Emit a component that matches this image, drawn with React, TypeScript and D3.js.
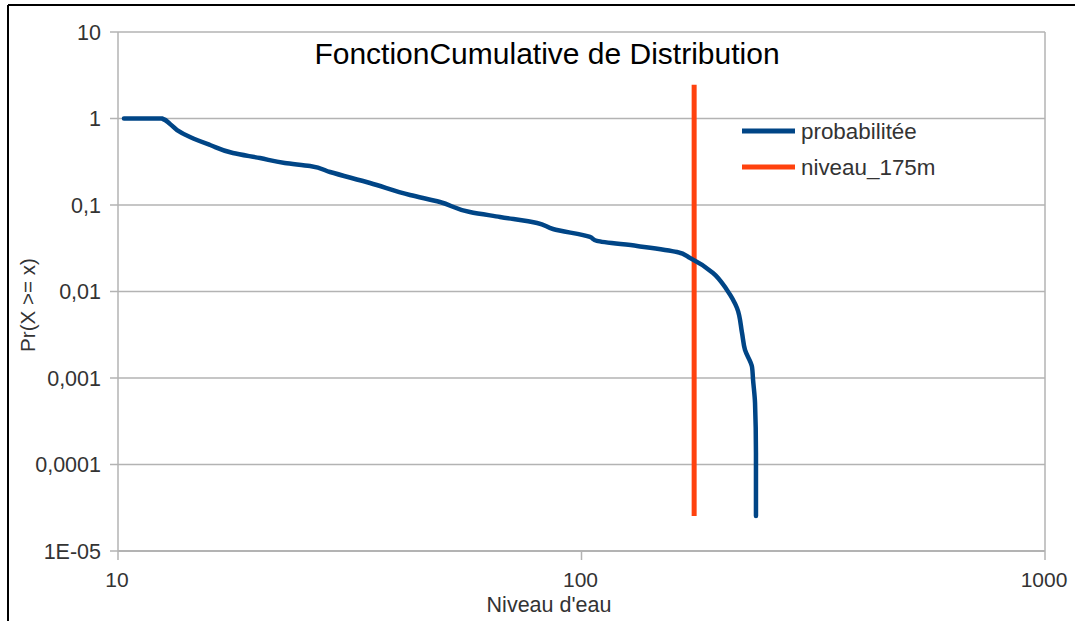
import React from "react";
import * as d3 from "d3";

const levels = [10.3, 12.44, 12.95, 13.41, 14.3, 15.8, 17.7, 20.25, 22.9, 25.96, 28.67, 34.97, 42.66, 49.5, 57.45, 66.7, 80.2, 86.8, 104.3, 108.0, 131.8, 160.7, 171.5, 192.2, 206.0, 216.5, 222.0, 225.3, 233.3, 234.5, 236.8, 237.9, 237.9];
const probas = [1, 1, 0.864, 0.736, 0.611, 0.494, 0.399, 0.349, 0.306, 0.282, 0.2407, 0.1796, 0.1305, 0.1083, 0.083, 0.0727, 0.0619, 0.0528, 0.0427, 0.0384, 0.0336, 0.0286, 0.0244, 0.0164, 0.0104, 0.00644, 0.00331, 0.00211, 0.00134, 0.00095, 0.000514, 0.000136, 0.0000254];

const markLevel = [175, 175];
const markProba = [0.0000254, 2.45];

const yTicks = [10, 1, 0.1, 0.01, 0.001, 0.0001, 0.00001];
const yTickLabels = ["10", "1", "0,1", "0,01", "0,001", "0,0001", "1E-05"];
const xTicks = [10, 100, 1000];
const xTickLabels = ["10", "100", "1000"];

const seriesNames = ["probabilitée", "niveau_175m"];
const seriesColors = ["#004586", "#ff420e"];

const FONT = "'Liberation Sans', Arial, sans-serif";

export default function App() {
  const width = 1075;
  const height = 621;
  const left = 118, right = 1045, top = 32, bottom = 551;

  const x = d3.scaleLog().domain([10, 1000]).range([left, right]);
  const y = d3.scaleLog().domain([0.00001, 10]).range([bottom, top]);

  const line = d3.line<number>()
    .x((d, i) => x(levels[i]))
    .y((d, i) => y(probas[i]))
    .curve(d3.curveMonotoneY);

  const markLine = d3.line<number>()
    .x((d, i) => x(markLevel[i]))
    .y((d, i) => y(markProba[i]));

  return (
    <svg width={width} height={height} style={{ position: "absolute", left: 0, top: 0, background: "#fff" }} fontFamily={FONT}>
      {/* outer frame */}
      <line x1={8} y1={5} x2={width} y2={5} stroke="#000" strokeWidth={2} />
      <line x1={8} y1={5} x2={8} y2={height} stroke="#000" strokeWidth={2} />

      {/* grid */}
      {yTicks.map((t, i) => (
        <line key={i} x1={left} x2={right} y1={y(t)} y2={y(t)} stroke="#b3b3b3" strokeWidth={1.5} />
      ))}
      <line x1={right} x2={right} y1={top} y2={bottom} stroke="#b3b3b3" strokeWidth={1.5} />
      <line x1={left} x2={left} y1={top} y2={bottom} stroke="#b3b3b3" strokeWidth={1.5} />
      <line x1={left} x2={right} y1={bottom} y2={bottom} stroke="#b3b3b3" strokeWidth={2} />

      {/* y ticks */}
      {yTicks.map((t, i) => (
        <g key={i}>
          <line x1={left - 8} x2={left} y1={y(t)} y2={y(t)} stroke="#b3b3b3" strokeWidth={1.5} />
          <text x={101} y={y(t)} dy="0.36em" textAnchor="end" fontSize={21.5} fill="#333">{yTickLabels[i]}</text>
        </g>
      ))}

      {/* x ticks */}
      {xTicks.map((t, i) => (
        <g key={i}>
          <line x1={x(t)} x2={x(t)} y1={bottom} y2={bottom + 9} stroke="#b3b3b3" strokeWidth={1.5} />
          <text x={x(t) - 1} y={587} textAnchor="middle" fontSize={21} fill="#333">{xTickLabels[i]}</text>
        </g>
      ))}

      {/* series */}
      <path d={markLine(markLevel) ?? ""} fill="none" stroke={seriesColors[1]} strokeWidth={5} />
      <path d={line(levels) ?? ""} fill="none" stroke={seriesColors[0]} strokeWidth={4.5} strokeLinejoin="round" strokeLinecap="round" />

      {/* title */}
      <text x={547} y={64} textAnchor="middle" fontSize={30} fill="#000">FonctionCumulative de Distribution</text>

      {/* axis titles */}
      <text x={549} y={612} textAnchor="middle" fontSize={21.5} fill="#333">Niveau d'eau</text>
      <text transform={`translate(35, 305) rotate(-90)`} textAnchor="middle" fontSize={20.6} fill="#333">Pr(X &gt;= x)</text>

      {/* legend */}
      {seriesNames.map((n, i) => (
        <g key={i} transform={`translate(742, ${131 + i * 36})`}>
          <line x1={0} x2={53} y1={0} y2={0} stroke={seriesColors[i]} strokeWidth={5} />
          <text x={59} y={0} dy="0.36em" fontSize={22.4} fill="#333">{n}</text>
        </g>
      ))}
    </svg>
  );
}
